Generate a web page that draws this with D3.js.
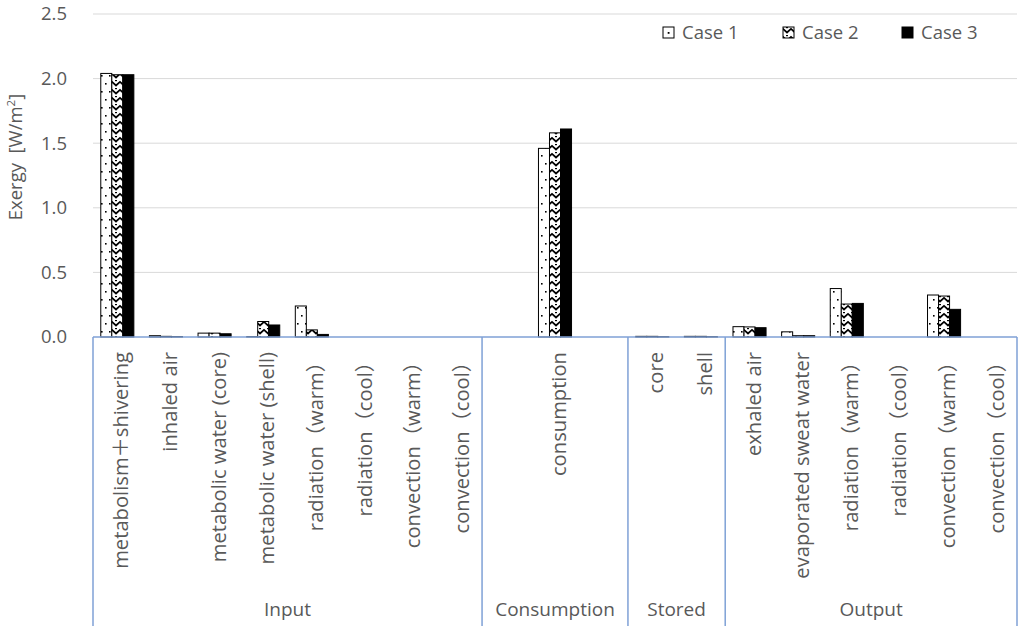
<!DOCTYPE html>
<html>
<head>
<meta charset="utf-8">
<script src="https://cdn.jsdelivr.net/npm/d3@7/dist/d3.min.js"></script>
<style>
  html, body { margin: 0; padding: 0; background: #fff; }
  svg { display: block; }
  text { font-family: "Open Sans", "Noto Sans CJK JP", sans-serif; fill: #595959; }
</style>
</head>
<body>
<svg id="chart" width="1024" height="628"></svg>
<script>
// ---- data ----
const categories = [
  "metabolism＋shivering", "inhaled air", "metabolic water (core)", "metabolic water (shell)",
  "radiation（warm）", "radiation（cool）", "convection（warm）", "convection（cool）",
  "", "consumption", "",
  "core", "shell",
  "exhaled air", "evaporated sweat water", "radiation（warm）", "radiation（cool）",
  "convection（warm）", "convection（cool）"
];
const groupNames = ["Input", "Consumption", "Stored", "Output"];
const groupSizes = [8, 3, 2, 6];
const seriesNames = ["Case 1", "Case 2", "Case 3"];
const case1 = [2.04, 0.01, 0.03, 0.003, 0.24, 0, 0, 0, 0, 1.46, 0, 0.005, 0.005, 0.08, 0.04, 0.375, 0, 0.325, 0];
const case2 = [2.03, 0.005, 0.03, 0.12, 0.055, 0, 0, 0, 0, 1.58, 0, 0.005, 0.005, 0.078, 0.01, 0.255, 0, 0.317, 0];
const case3 = [2.03, 0.003, 0.025, 0.093, 0.02, 0, 0, 0, 0, 1.61, 0, 0.002, 0.002, 0.072, 0.01, 0.26, 0, 0.214, 0];
const yTicks = [0, 0.5, 1.0, 1.5, 2.0, 2.5];
const yTitle = "Exergy\u00A0\u00A0[W/m";

const seriesValues = [case1, case2, case3];

const svg = d3.select("#chart");
const mLeft = 93, mRight = 1017, mTop = 14, mBottom = 337;

// patterns
const defs = svg.append("defs");
const pDots = defs.append("pattern").attr("id", "pat1").attr("patternUnits", "userSpaceOnUse")
  .attr("width", 8).attr("height", 16);
pDots.append("rect").attr("width", 8).attr("height", 16).attr("fill", "#fff");
pDots.append("rect").attr("x", 1).attr("y", 3).attr("width", 1.6).attr("height", 1.6).attr("fill", "#000");
pDots.append("rect").attr("x", 5).attr("y", 11).attr("width", 1.6).attr("height", 1.6).attr("fill", "#000");

const pWave = defs.append("pattern").attr("id", "pat2").attr("patternUnits", "userSpaceOnUse")
  .attr("width", 8).attr("height", 8);
pWave.append("rect").attr("width", 8).attr("height", 8).attr("fill", "#fff");
pWave.append("path").attr("d", "M-1,1 L4,5.5 L9,1").attr("fill", "none").attr("stroke", "#000").attr("stroke-width", 1.8);
pWave.append("path").attr("d", "M-1,9 L4,13.5 L9,9").attr("fill", "none").attr("stroke", "#000").attr("stroke-width", 1.8);
pWave.append("rect").attr("x", 3).attr("y", 0).attr("width", 2).attr("height", 1.2).attr("fill", "#000");

const fills = ["url(#pat1)", "url(#pat2)", "#000"];

// scales
const x0 = d3.scaleBand().domain(d3.range(categories.length)).range([mLeft, mRight])
  .paddingInner(0.32).paddingOuter(0.16);
const x1 = d3.scaleBand().domain(d3.range(seriesNames.length)).range([0, x0.bandwidth()]);
const y = d3.scaleLinear().domain([0, 2.5]).range([mBottom, mTop]);
const step = x0.step();

// gridlines
svg.append("g").selectAll("line").data(yTicks.filter(d => d > 0)).join("line")
  .attr("x1", mLeft).attr("x2", mRight)
  .attr("y1", d => y(d)).attr("y2", d => y(d))
  .attr("stroke", "#d9d9d9").attr("stroke-width", 1);

// y tick labels
svg.append("g").selectAll("text").data(yTicks).join("text")
  .attr("x", 67).attr("y", d => y(d))
  .attr("dy", "0.35em").attr("text-anchor", "end")
  .style("font-size", "18.5px")
  .text(d => d.toFixed(1));

// y title
const yt = svg.append("text")
  .attr("transform", "translate(22,157) rotate(-90)")
  .attr("text-anchor", "middle")
  .style("font-size", "18.5px");
yt.append("tspan").text(yTitle);
yt.append("tspan").attr("dy", -7).style("font-size", "11.5px").text("2");
yt.append("tspan").attr("dy", 7).text("]");

// bars
const barData = [];
seriesValues.forEach((vals, s) => vals.forEach((v, i) => { if (v > 0) barData.push({ i, s, v }); }));
svg.append("g").selectAll("rect").data(barData).join("rect")
  .attr("x", d => x0(d.i) + x1(d.s))
  .attr("width", x1.bandwidth())
  .attr("y", d => y(d.v))
  .attr("height", d => y(0) - y(d.v))
  .attr("fill", d => fills[d.s])
  .attr("stroke", "#000").attr("stroke-width", 1);

// category axis
const axisColor = "#7fa1d6";
const ax = svg.append("g");
ax.append("line").attr("x1", mLeft).attr("x2", mRight).attr("y1", y(0)).attr("y2", y(0))
  .attr("stroke", axisColor).attr("stroke-width", 1.5);
let startIdx = 0;
const bounds = [0];
groupSizes.forEach(n => { startIdx += n; bounds.push(startIdx); });
ax.selectAll("line.div").data(bounds).join("line").attr("class", "div")
  .attr("x1", b => mLeft + b * step).attr("x2", b => mLeft + b * step)
  .attr("y1", y(0)).attr("y2", 626)
  .attr("stroke", axisColor).attr("stroke-width", 1.5);

// category labels
ax.selectAll("text.cat").data(categories).join("text").attr("class", "cat")
  .attr("transform", (d, i) => `translate(${x0(i) + x0.bandwidth() / 2 + 4},352) rotate(-90)`)
  .attr("text-anchor", "end").attr("dy", "0.35em")
  .style("font-size", "20.2px")
  .text(d => d);

// group labels
ax.selectAll("text.grp").data(groupNames).join("text").attr("class", "grp")
  .attr("x", (d, k) => mLeft + (bounds[k] + bounds[k + 1]) / 2 * step)
  .attr("y", 616).attr("text-anchor", "middle")
  .style("font-size", "19px")
  .text(d => d);

// legend
const legX = [663, 783, 902];
const leg = svg.append("g").selectAll("g").data(seriesNames).join("g")
  .attr("transform", (d, s) => `translate(${legX[s]},27)`);
leg.append("rect").attr("width", 11).attr("height", 11)
  .attr("fill", (d, s) => s === 0 ? "#fff" : fills[s]).attr("stroke", "#000").attr("stroke-width", 1);
leg.filter((d, s) => s === 0).append("rect").attr("x", 4.7).attr("y", 5).attr("width", 1.8).attr("height", 1.8).attr("fill", "#000");
leg.append("text").attr("x", 19).attr("y", 5.5).attr("dy", "0.35em")
  .style("font-size", "18.5px").text(d => d);
</script>
</body>
</html>
